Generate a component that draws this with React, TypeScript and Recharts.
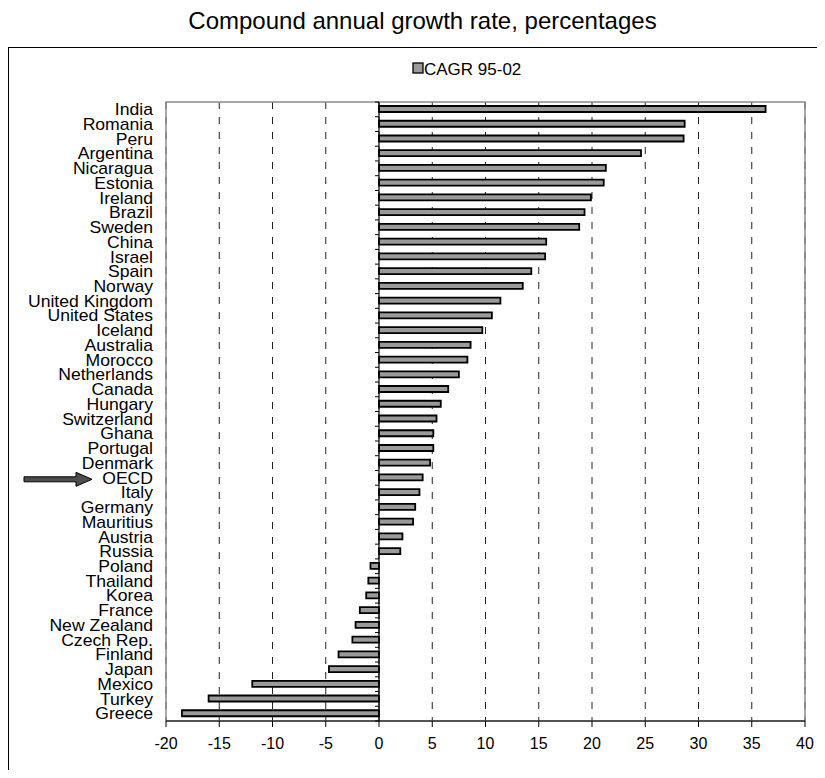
import React from 'react';
import {
  BarChart,
  Bar,
  XAxis,
  YAxis,
  CartesianGrid,
  ReferenceArea,
  ReferenceLine,
} from 'recharts';

// Compound annual growth rate 1995-2002, percent
const countries = [
  'India', 'Romania', 'Peru', 'Argentina', 'Nicaragua', 'Estonia', 'Ireland',
  'Brazil', 'Sweden', 'China', 'Israel', 'Spain', 'Norway', 'United Kingdom',
  'United States', 'Iceland', 'Australia', 'Morocco', 'Netherlands', 'Canada',
  'Hungary', 'Switzerland', 'Ghana', 'Portugal', 'Denmark', 'OECD', 'Italy',
  'Germany', 'Mauritius', 'Austria', 'Russia', 'Poland', 'Thailand', 'Korea',
  'France', 'New Zealand', 'Czech Rep.', 'Finland', 'Japan', 'Mexico',
  'Turkey', 'Greece',
];

const cagr = [
  36.3, 28.7, 28.6, 24.6, 21.3, 21.1, 19.9,
  19.3, 18.8, 15.7, 15.6, 14.3, 13.5, 11.4,
  10.6, 9.7, 8.6, 8.3, 7.5, 6.5,
  5.8, 5.4, 5.1, 5.1, 4.8, 4.1, 3.8,
  3.4, 3.2, 2.2, 2.0, -0.8, -1.0, -1.2,
  -1.8, -2.2, -2.5, -3.8, -4.7, -11.9,
  -16.0, -18.5,
];

const xTicks = [-20, -15, -10, -5, 0, 5, 10, 15, 20, 25, 30, 35, 40];
const seriesName = 'CAGR 95-02';
const chartTitle = 'Compound annual growth rate, percentages';
const highlighted = 'OECD';

const data = countries.map((country, i) => ({ country, value: cagr[i] }));

const W = 817;
const H = 770;
const BAR_FILL = '#9a9a9a';

// Category label, stretched slightly wide; the highlighted row gets a pointer arrow
const CountryTick = (props: any) => {
  const { x, y, payload } = props;
  return (
    <g transform={`translate(${x},${y})`}>
      {payload.value === highlighted && (
        <path
          d="M-129,-1 L-77,-1 L-77,-5.5 L-61,1.5 L-77,8.5 L-77,4 L-129,4 Z"
          fill="#4d4d4d"
          stroke="#000"
          strokeWidth={1}
        />
      )}
      <text
        transform="scale(1.1,1)"
        textAnchor="end"
        dy="0.36em"
        fontSize={16}
        fill="#000"
      >
        {payload.value}
      </text>
    </g>
  );
};

// Zero axis: solid line with short ticks on the category boundaries
const ZeroAxis = (props: any) => {
  const { x1, y1, y2 } = props;
  const top = Math.min(y1, y2);
  const bottom = Math.max(y1, y2);
  const step = (bottom - top) / countries.length;
  const marks = [];
  for (let k = 0; k <= countries.length; k++) {
    const yy = top + k * step;
    marks.push(<line key={k} x1={x1 - 4} x2={x1} y1={yy} y2={yy} stroke="#000" strokeWidth={1} />);
  }
  return (
    <g>
      <line x1={x1} x2={x1} y1={top} y2={bottom} stroke="#000" strokeWidth={1.2} />
      {marks}
    </g>
  );
};

export default function App() {
  return (
    <div
      style={{
        position: 'relative',
        width: W,
        height: H,
        marginBottom: -8,
        overflow: 'hidden',
        fontFamily: '"Liberation Sans", Arial, sans-serif',
        background: '#fff',
      }}
    >
      <BarChart
        width={W}
        height={H}
        data={data}
        layout="vertical"
        margin={{ top: 94, right: 20, bottom: 27, left: 0 }}
      >
        <CartesianGrid
          horizontal={false}
          stroke="#222"
          strokeDasharray="7 8"
        />
        <ReferenceArea
          x1={-20}
          x2={40}
          fill="none"
          fillOpacity={0}
          stroke="#8a8a8a"
          strokeWidth={1.5}
        />
        <XAxis
          type="number"
          domain={[-20, 40]}
          ticks={xTicks}
          height={30}
          interval={0}
          axisLine={{ stroke: '#000', strokeWidth: 1.2 }}
          tickLine={{ stroke: '#000' }}
          tickSize={6}
          tickMargin={11}
          tick={{ fontSize: 16, fill: '#000' }}
          allowDataOverflow
        />
        <YAxis
          type="category"
          dataKey="country"
          width={158}
          axisLine={false}
          tickLine={false}
          tickSize={0}
          tickMargin={13}
          interval={0}
          tick={<CountryTick />}
        />
        <Bar
          dataKey="value"
          name={seriesName}
          fill={BAR_FILL}
          stroke="#000"
          strokeWidth={1.8}
          barSize={6}
          isAnimationActive={false}
        />
        <ReferenceLine x={0} shape={<ZeroAxis />} />
      </BarChart>
      <svg
        width={W}
        height={H}
        style={{ position: 'absolute', left: 0, top: 0, pointerEvents: 'none' }}
      >
        <text x={414.5} y={21} textAnchor="middle" fontSize={24} fill="#000">
          {chartTitle}
        </text>
        <rect x={0.5} y={39.5} width={813} height={800} fill="none" stroke="#000" strokeWidth={1} />
        <rect x={405} y={55} width={10} height={10} fill={BAR_FILL} stroke="#000" strokeWidth={1.3} />
        <text x={416} y={67} fontSize={17} fill="#000">
          {seriesName}
        </text>
      </svg>
    </div>
  );
}
